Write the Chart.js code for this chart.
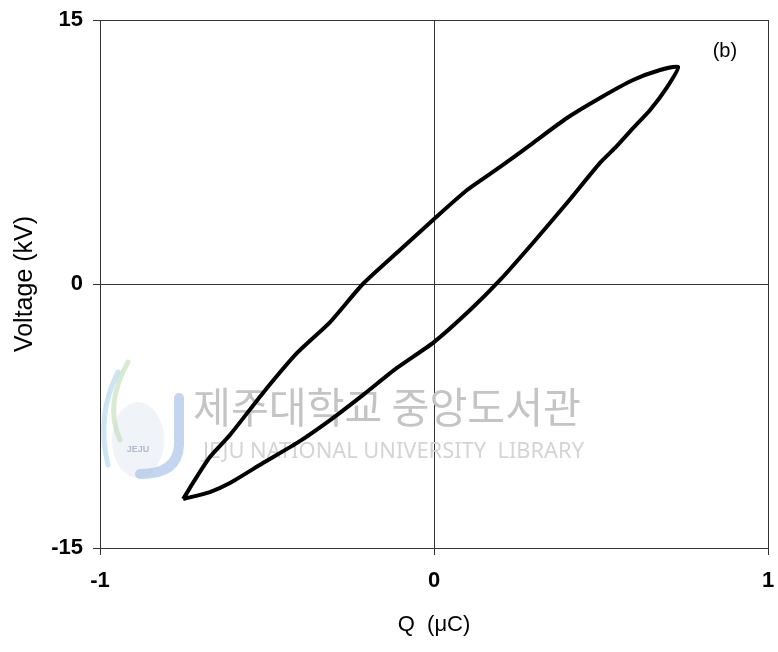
<!DOCTYPE html>
<html>
<head>
<meta charset="utf-8">
<script src="https://cdn.jsdelivr.net/npm/chart.js@4"></script>
<style>
  body { margin: 0; background: #fff; }
  #wrap { width: 778px; height: 652px; }
</style>
</head>
<body>
<div id="wrap"><canvas id="loopChart" width="778" height="652"></canvas></div>
<script>
// Q (uC) / Voltage (kV)
// charging branch: bottom-left tip up to top-right tip
var qRise = [-0.751, -0.722, -0.671, -0.611, -0.512, -0.410, -0.311, -0.213, -0.102, -0.003, 0.099, 0.198, 0.296, 0.398, 0.497, 0.596, 0.677, 0.731];
var vRise = [-12.22, -11.31, -9.83, -8.58, -6.19, -3.92, -2.16, 0.00, 1.93, 3.64, 5.34, 6.65, 8.01, 9.43, 10.57, 11.59, 12.16, 12.33];
// discharging branch: top-right tip back down to bottom-left tip
var qFall = [0.698, 0.647, 0.596, 0.542, 0.497, 0.398, 0.296, 0.198, 0.108, 0.000, -0.111, -0.213, -0.311, -0.410, -0.512, -0.611, -0.671, -0.751];
var vFall = [11.19, 9.89, 8.86, 7.73, 6.88, 4.60, 2.33, 0.23, -1.48, -3.30, -4.77, -6.31, -7.73, -9.03, -10.17, -11.31, -11.82, -12.22];

var xTicks = [-1, 0, 1];
var yTicks = [-15, 0, 15];

var loopPoints = [];
qRise.forEach(function(q, i) { loopPoints.push({ x: q, y: vRise[i] }); });
qFall.forEach(function(q, i) { loopPoints.push({ x: q, y: vFall[i] }); });

// faint library watermark + panel tag
var decorPlugin = {
    id: 'decor',
    beforeDatasetsDraw: function(chart) {
        var ctx = chart.ctx;
        var a = chart.chartArea;
        var L = a.left, T = a.top;
        ctx.save();
        // logo
        ctx.lineCap = 'round';
        ctx.fillStyle = 'rgba(225,232,240,0.5)';
        ctx.beginPath();
        ctx.ellipse(L + 38, T + 420, 26, 38, 0, 0, Math.PI * 2);
        ctx.fill();
        ctx.strokeStyle = 'rgba(170,195,232,0.7)';
        ctx.lineWidth = 10;
        ctx.beginPath();
        ctx.moveTo(L + 79, T + 378);
        ctx.lineTo(L + 79, T + 425);
        ctx.quadraticCurveTo(L + 78, T + 454, L + 40, T + 454);
        ctx.stroke();
        ctx.lineWidth = 5;
        ctx.strokeStyle = 'rgba(190,222,180,0.6)';
        ctx.beginPath();
        ctx.moveTo(L + 28, T + 342);
        ctx.quadraticCurveTo(L + 4, T + 385, L + 20, T + 420);
        ctx.stroke();
        ctx.strokeStyle = 'rgba(170,210,235,0.6)';
        ctx.beginPath();
        ctx.moveTo(L + 18, T + 352);
        ctx.quadraticCurveTo(L - 4, T + 395, L + 8, T + 445);
        ctx.stroke();
        ctx.fillStyle = 'rgba(165,175,195,0.8)';
        ctx.font = 'bold 9px "Liberation Sans"';
        ctx.textAlign = 'center';
        ctx.fillText('JEJU', L + 38, T + 432);

        // text
        ctx.textAlign = 'left';
        ctx.textBaseline = 'middle';
        ctx.fillStyle = '#c4c4c4';
        ctx.font = '42px "Noto Sans CJK KR"';
        ctx.fillText('제주대학교 중앙도서관', L + 93, T + 387, 388);
        ctx.fillStyle = '#d4d4d4';
        ctx.font = '22px "Noto Sans"';
        ctx.fillText('JEJU NATIONAL UNIVERSITY  LIBRARY', L + 103, T + 432, 381);
        ctx.restore();
    },
    afterDraw: function(chart) {
        var ctx = chart.ctx;
        var xs = chart.scales.x, ys = chart.scales.y;
        ctx.save();
        ctx.fillStyle = '#000';
        ctx.font = '20px "Liberation Sans"';
        ctx.textAlign = 'center';
        ctx.textBaseline = 'middle';
        ctx.fillText('(b)', xs.getPixelForValue(0.871), ys.getPixelForValue(13.2));
        ctx.restore();
    }
};

var gridStyle = {
    color: '#333',
    lineWidth: 1,
    drawTicks: true,
    tickLength: 7,
    tickColor: '#333'
};

var ctxLoop = document.getElementById('loopChart').getContext('2d');
new Chart(ctxLoop, {
    type: 'scatter',
    data: {
        datasets: [{
            data: loopPoints,
            showLine: true,
            borderColor: '#000',
            borderWidth: 4,
            pointRadius: 0,
            tension: 0.2,
            fill: false
        }]
    },
    options: {
        responsive: false,
        animation: false,
        layout: { padding: { top: 20, right: 10, left: 0, bottom: 0 } },
        plugins: {
            legend: { display: false },
            tooltip: { enabled: false }
        },
        scales: {
            x: {
                min: xTicks[0],
                max: xTicks[xTicks.length - 1],
                afterBuildTicks: function(scale) {
                    scale.ticks = xTicks.map(function(v) { return { value: v }; });
                },
                afterFit: function(scale) {
                    scale.height = 104;
                    scale.paddingLeft = 0;
                    scale.paddingRight = 0;
                },
                grid: gridStyle,
                border: { color: '#333', width: 1 },
                ticks: {
                    color: '#000',
                    padding: 13,
                    maxRotation: 0,
                    font: { family: 'Liberation Sans', size: 22, weight: 'bold' }
                },
                title: {
                    display: true,
                    text: 'Q  (\u03bcC)',
                    color: '#000',
                    padding: { top: 0, bottom: 14 },
                    font: { family: 'Liberation Sans', size: 22 }
                }
            },
            y: {
                min: yTicks[0],
                max: yTicks[yTicks.length - 1],
                afterBuildTicks: function(scale) {
                    scale.ticks = yTicks.map(function(v) { return { value: v }; });
                },
                afterFit: function(scale) {
                    scale.width = 100;
                    scale.paddingTop = 0;
                    scale.paddingBottom = 0;
                },
                grid: gridStyle,
                border: { color: '#333', width: 1 },
                ticks: {
                    color: '#000',
                    padding: 10,
                    font: { family: 'Liberation Sans', size: 22, weight: 'bold' }
                },
                title: {
                    display: true,
                    text: 'Voltage (kV)',
                    color: '#000',
                    padding: { top: 10, bottom: 0 },
                    font: { family: 'Liberation Sans', size: 25 }
                }
            }
        }
    },
    plugins: [decorPlugin]
});
</script>
</body>
</html>
